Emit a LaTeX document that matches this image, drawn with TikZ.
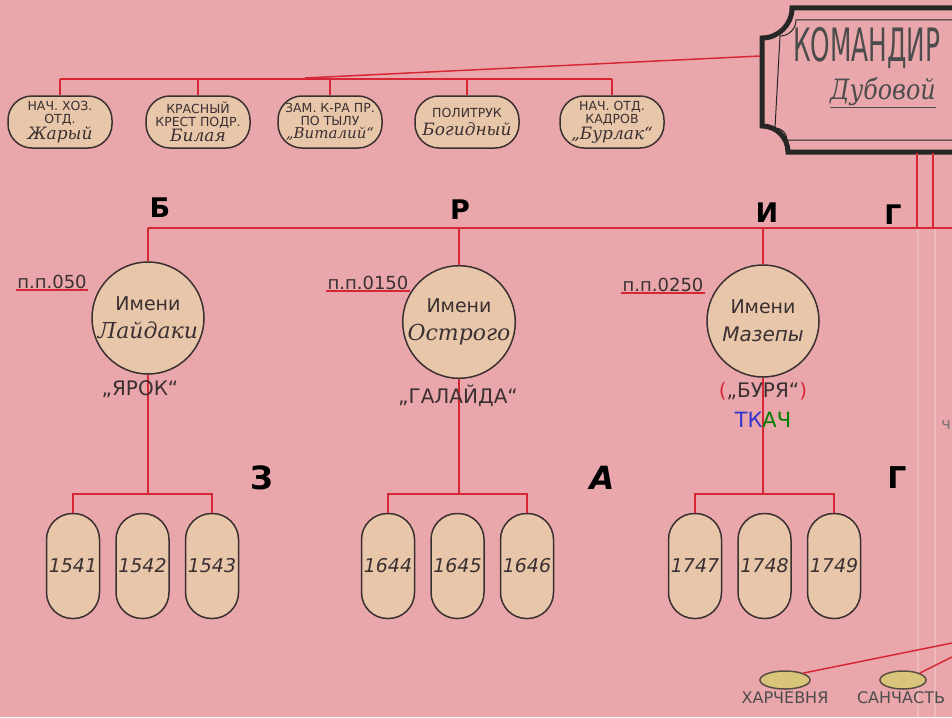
\documentclass[tikz,border=0pt]{standalone}
\usepackage{fontspec}
\usepackage{graphicx}
\setmainfont{DejaVu Sans}
\newfontfamily\scr{DejaVu Serif}
\usetikzlibrary{positioning}
\usetikzlibrary{calc}
\usetikzlibrary{shapes.geometric}
\definecolor{paper colour}{RGB}{233,167,172}
\definecolor{node colour}{RGB}{232,198,170}
\definecolor{oval colour}{RGB}{216,196,122}
\definecolor{link colour}{RGB}{214,40,52}
\definecolor{ink colour}{RGB}{58,48,50}
\definecolor{fold colour}{RGB}{238,186,186}
\tikzset{
    % Red connecting lines
    link/.style={color=link colour, line width=1.5pt},
    % Fills and outlines
    node fill/.style={fill=node colour},
    outline/.style={draw=ink colour, line width=1.5pt},
    every node/.style={align=center, text=ink colour},
}
\newcommand{\nickname}[2]{{\fontsize{#1}{#1}\selectfont\scr\itshape #2}}

\begin{document}
\begin{tikzpicture}[x=1pt, y=-1pt,
    staff box/.style={outline, node fill, rounded corners=24pt,
        minimum width=104pt, minimum height=52pt, inner sep=1pt,
        font=\fontsize{12.5}{13}\selectfont},
    unit circle/.style={outline, node fill, circle, minimum size=112pt,
        inner sep=0pt, font=\fontsize{19}{20}\selectfont},
    cell/.style={outline, node fill, rounded corners=26pt,
        minimum width=53pt, minimum height=105pt, inner sep=0pt,
        font=\fontsize{19}{19}\selectfont\itshape},
    big letter/.style={font=\fontsize{27}{27}\selectfont\bfseries, text=black},
    post label/.style={font=\fontsize{18}{18}\selectfont, inner sep=1pt},
    alias label/.style={font=\fontsize{20}{20}\selectfont},
    place label/.style={font=\fontsize{16}{16}\selectfont, text=black!70, inner sep=1pt},
    oval/.style={draw=ink colour!80!oval colour, line width=1.5pt,
        fill=oval colour, ellipse, minimum width=50pt, minimum height=18pt},
    ]

% Paper
\fill [paper colour] (0,0) rectangle (952,717);
\useasboundingbox (0,0) rectangle (952,717);
\clip (0,0) rectangle (952,717);

% Paper folds
\draw [fold colour, line width=1.2pt] (918,228) -- (918,717);
\draw [fold colour, line width=1.2pt] (935,228) -- (935,717);

% Commander box
\draw [black!85, line width=5pt]
    (1000,8) -- (792,8) arc [start angle=0, end angle=-90, radius=30pt]
    -- (762,126) arc [start angle=90, end angle=0, radius=26pt]
    -- (1000,152);
\draw [black!85, line width=1pt]
    (1000,20) -- (796,20) arc [start angle=0, end angle=-90, radius=16pt]
    -- (775,128) arc [start angle=90, end angle=0, radius=12pt]
    -- (1000,140);
\node [anchor=west, text=black!70, inner sep=0pt]
    (cmd title) at (793,48) {\scalebox{0.54}[1]{\fontsize{46}{46}\selectfont КОМАНДИР}};
\node [anchor=west, text=black!70, inner sep=0pt]
    (cmd name) at (830,93) {\scalebox{0.85}[1]{\fontsize{28}{28}\selectfont\scr\itshape\underline{Дубовой}}};
\coordinate (cmd west) at (760,56);

% Staff
\node [staff box] (staff a) at (60,122)
    {НАЧ. ХОЗ.\\ОТД.\\\nickname{17}{Жарый}};
\node [staff box] (staff b) at (198,122)
    {КРАСНЫЙ\\КРЕСТ ПОДР.\\\nickname{17}{Билая}};
\node [staff box] (staff c) at (330,122)
    {ЗАМ. К-РА ПР.\\ПО ТЫЛУ\\\nickname{15}{„Виталий“}};
\node [staff box] (staff d) at (467,122)
    {ПОЛИТРУК\\[3pt]\nickname{17}{Богидный}};
\node [staff box] (staff e) at (612,122)
    {НАЧ. ОТД.\\КАДРОВ\\\nickname{17}{„Бурлак“}};
\coordinate (staff join) at (305,78);
\draw [link] (cmd west) -- (staff join);
\draw [link] (staff a.north |- 0,79) -- (staff e.north |- 0,79);
\foreach \s in {a,b,c,d,e}
    \draw [link] (staff \s.north |- 0,79) -- (staff \s.north);

% Main bus
\coordinate (bus end) at (952,228);
\draw [link] (148,228) -- (bus end);
\draw [link] (917,153) -- (917,228);
\draw [link] (933,153) -- (933,228);

% Letters
\node [big letter] (l1) at (160,208) {Б};
\node [big letter] (l2) at (460,210) {Р};
\node [big letter] (l3) at (767,213) {И};
\node [big letter] (l4) at (893,215) {Г};
\node [big letter, font=\fontsize{32}{32}\selectfont\bfseries] (l5) at (262,478) {З};
\node [big letter, font=\fontsize{32}{32}\selectfont\bfseries\itshape] (l6) at (602,478) {А};
\node [big letter, font=\fontsize{30}{30}\selectfont\bfseries] (l7) at (897,478) {Г};

% Kurens
\node [unit circle] (kuren a) at (148,318)
    {Имени\\[8pt]\nickname{22}{Лайдаки}};
\node [unit circle] (kuren b) at (459,322)
    {Имени\\[8pt]\nickname{22}{Острого}};
\node [unit circle] (kuren c) at (763,321)
    {Имени\\[8pt]{\fontsize{20}{20}\selectfont\itshape Мазепы}};

\node [post label] (post a) at (52,282) {п.п.050};
\node [post label] (post b) at (368,283) {п.п.0150};
\node [post label] (post c) at (663,285) {п.п.0250};
\draw [link, line width=2.4pt] (post a.south west) -- (post a.south east);
\draw [link, line width=2.4pt] (post b.south west) -- (post b.south east);
\draw [link, line width=2.4pt] (post c.south west) -- (post c.south east);

% Sotnias
\foreach \k/\x/\p/\q/\r in {a/73/1541/1542/1543, b/388/1644/1645/1646, c/695/1747/1748/1749} {
    \node [cell] (cell \p) at (\x,566) {\p};
    \node [cell, right=15pt of cell \p] (cell \q) {\q};
    \node [cell, right=15pt of cell \q] (cell \r) {\r};
    \draw [link] (kuren \k.south) -- (kuren \k.south |- 0,494);
    \draw [link] (cell \p.north) -- (cell \p.north |- 0,494)
        -- (cell \r.north |- 0,494) -- (cell \r.north);
}
\foreach \k in {a,b,c}
    \draw [link] (kuren \k.north |- 0,228) -- (kuren \k.north);

\node [alias label] (alias a) at (140,389) {„ЯРОК“};
\node [alias label] (alias b) at (458,396) {„ГАЛАЙДА“};
\node [alias label] (alias c) at (763,391)
    {\textcolor{link colour}{(}„БУРЯ“\textcolor{link colour}{)}};
\node [alias label, font=\fontsize{21}{21}\selectfont] (alias d) at (763,420)
    {\textcolor{blue!60!gray}{ТК}\textcolor{green!50!black}{АЧ}};

% Right margin
\node [font=\fontsize{16}{16}\selectfont, text=black!55] (cut note) at (946,425) {ч};

% Kitchen and medics
\node [oval] (kitchen) at (785,680) {};
\node [oval, minimum width=46pt] (medic) at (903,680) {};
\node [place label, below=1pt of kitchen] (kitchen label) {ХАРЧЕВНЯ};
\node [place label, below=1pt of medic, xshift=-2pt] (medic label) {САНЧАСТЬ};
\coordinate (rear a) at (952,643);
\coordinate (rear b) at (952,657);
\draw [link] (rear a) -- (kitchen.north east);
\draw [link] (rear b) -- (medic.north east);

\end{tikzpicture}
\end{document}
